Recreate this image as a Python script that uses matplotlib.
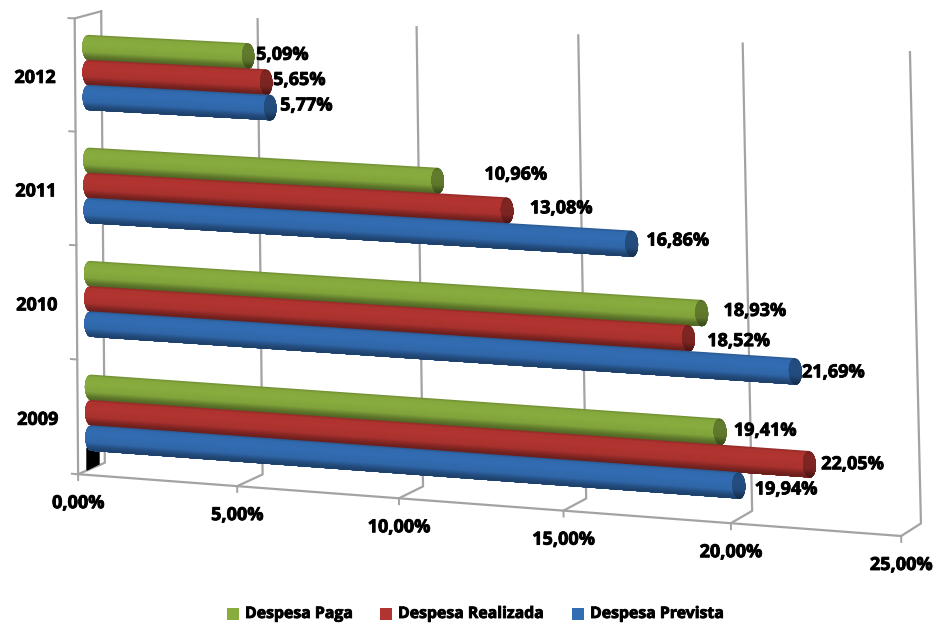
import matplotlib
matplotlib.use('Agg')
import matplotlib.pyplot as plt
import matplotlib.patheffects as pe
from matplotlib.patches import Polygon, Rectangle
import numpy as np

years = ['2009', '2010', '2011', '2012']
despesa_paga = [19.41, 18.93, 10.96, 5.09]
despesa_realizada = [22.05, 18.52, 13.08, 5.65]
despesa_prevista = [19.94, 21.69, 16.86, 5.77]
value_ticks = [0, 5, 10, 15, 20, 25]
value_tick_labels = ['0,00%', '5,00%', '10,00%', '15,00%', '20,00%', '25,00%']
series_names = ['Despesa Paga', 'Despesa Realizada', 'Despesa Prevista']

# green, red, blue: base colour and darker colour for the end cap
base_colors = [np.array([136, 172, 62]), np.array([178, 52, 48]), np.array([50, 108, 178])]
cap_scale = 0.72

# pixel landmarks of the 3d box: (value, level, depth) -> (px, py), depth 0 front, 1 back
box_points = [
    ((0, 0, 0), (79, 473)), ((5, 0, 0), (238, 486)), ((20, 0, 0), (730, 523)), ((25, 0, 0), (902, 537)),
    ((0, 0, 1), (105, 463)), ((5, 0, 1), (262, 474)), ((10, 0, 1), (422, 487)), ((15, 0, 1), (585, 499)),
    ((20, 0, 1), (752, 511)), ((25, 0, 1), (922, 523)),
    ((0, 4, 1), (100, 12)), ((5, 4, 1), (258, 19)), ((10, 4, 1), (420, 27)), ((15, 4, 1), (580, 35)),
    ((20, 4, 1), (742, 43)), ((25, 4, 1), (908, 52)), ((0, 4, 0), (73, 19)),
]


def fit_camera(points):
    rows, rhs = [], []
    for (v, l, d), (px, py) in points:
        rows.append([v, l, d, 1, 0, 0, 0, 0, -px * v, -px * l, -px * d])
        rhs.append(px)
        rows.append([0, 0, 0, 0, v, l, d, 1, -py * v, -py * l, -py * d])
        rhs.append(py)
    sol = np.linalg.lstsq(np.array(rows, float), np.array(rhs, float), rcond=None)[0]
    return np.append(sol, 1).reshape(3, 4)


cam = fit_camera(box_points)


def project(v, l, d):
    v, l = np.asarray(v, float), np.asarray(l, float)
    d = np.full(v.shape, float(d))
    w = cam[2, 0] * v + cam[2, 1] * l + cam[2, 2] * d + cam[2, 3]
    px = (cam[0, 0] * v + cam[0, 1] * l + cam[0, 2] * d + cam[0, 3]) / w
    py = (cam[1, 0] * v + cam[1, 1] * l + cam[1, 2] * d + cam[1, 3]) / w
    return px, py


fig = plt.figure(figsize=(9.41, 6.24), dpi=100)
ax = fig.add_axes([0, 0, 1, 1])
ax.set_xlim(0, 941)
ax.set_ylim(624, 0)
ax.axis('off')

FONT = 'Open Sans'
GRAY = '#a3a3a3'
heavy = [pe.withStroke(linewidth=0.6, foreground='black')]

# walls
for v in value_ticks:
    x, y = project([v, v, v], [4, 0, 0], 1)
    x2, y2 = project([v], [0], 0)
    ax.plot(list(x) + list(x2), list(y) + list(y2), color=GRAY, lw=1.6, zorder=1)
    x3, y3 = project([v], [-0.05], 0)
    ax.plot([x2[0], x3[0]], [y2[0], y3[0]], color=GRAY, lw=1.4, zorder=1)
x, y = project([0, 25], [0, 0], 0)
ax.plot(x, y, color=GRAY, lw=1.6, zorder=1)
x, y = project([0, 0, 0], [0, 4, 4], 0)
x[2], y[2] = project([0], [4], 1)[0][0], project([0], [4], 1)[1][0]
ax.plot(x, y, color=GRAY, lw=1.6, zorder=1)
for l in range(5):
    x, y = project([0, -0.2], [l, l], 0)
    ax.plot(x, y, color=GRAY, lw=1.4, zorder=1)

# the black smudge under the 2009 bars
ax.add_patch(Polygon([(87, 448), (99, 448), (99, 464), (87, 470)], color='black', zorder=2))


def shade(color, t):
    # t runs from -1 (top of the cylinder) to 1 (bottom)
    f = np.interp(t, [-1, -0.8, -0.3, 0.35, 0.75, 1], [0.82, 0.98, 1.0, 0.95, 0.68, 0.58])
    return np.clip(color * f, 0, 255) / 255


BAR_DEPTH = 0.5
RADIUS = 0.112
CAP = 0.19
SPACING = 0.222
LEVEL_SHIFT = -0.012
N_STRIPS = 26


def draw_cylinder(value, level, color, z):
    # each strip is painted from its top edge down to the bottom of the cylinder,
    # the next one goes over it, so no seams show
    edges = np.linspace(-1, 1, N_STRIPS + 1)
    arc_t = np.linspace(-1, 1, 41)
    for a, b in zip(edges[:-1], edges[1:]):
        t = arc_t[arc_t >= a]
        t = np.concatenate([[a], t])
        ls = level - t * RADIUS
        left = -CAP * np.sqrt(1 - t * t)
        vs = np.concatenate([left, [value, value]])
        lv = np.concatenate([ls, [level - RADIUS, level - a * RADIUS]])
        x, y = project(vs, lv, BAR_DEPTH)
        c = shade(color, (a + b) / 2)
        ax.add_patch(Polygon(np.column_stack([x, y]), closed=True, lw=0, fc=c, zorder=z))
    # end cap, darker
    for a, b in zip(edges[:-1], edges[1:]):
        t = arc_t[arc_t >= a]
        t = np.concatenate([[a], t])
        ls = level - t * RADIUS
        half = CAP * np.sqrt(1 - t * t)
        vs = np.concatenate([value + half, (value - half)[::-1]])
        lv = np.concatenate([ls, ls[::-1]])
        x, y = project(vs, lv, BAR_DEPTH)
        c = shade(color * cap_scale, (a + b) / 2)
        ax.add_patch(Polygon(np.column_stack([x, y]), closed=True, lw=0, fc=c, zorder=z + 0.1))


label_dx = [[45, 53, 78, 34], [43, 50, 54, 33], [47, 38, 46, 36]]
label_dy = [[-1, -2, -6, -1], [0, 3, -2, -2], [4, 1, -3, -2]]
all_series = [despesa_paga, despesa_realizada, despesa_prevista]

z = 3
for i in range(len(years) - 1, -1, -1):
    for s, values in enumerate(all_series):
        level = i + 0.5 + (1 - s) * SPACING + LEVEL_SHIFT
        draw_cylinder(values[i], level, base_colors[s], z)
        z += 1
        ex, ey = project([values[i]], [level], BAR_DEPTH)
        txt = ('%.2f%%' % values[i]).replace('.', ',')
        ax.text(ex[0] + label_dx[s][i], ey[0] + label_dy[s][i], txt, ha='center', va='center',
                fontsize=13, fontweight='bold', family=FONT, color='black', zorder=200,
                path_effects=heavy)

# tick labels
for v, lab in zip(value_ticks, value_tick_labels):
    x, y = project([v], [0], 0)
    ax.text(x[0], y[0] + 29, lab, ha='center', va='center', fontsize=13, fontweight='bold',
            family=FONT, color='black', path_effects=heavy)
for i, year in enumerate(years):
    x, y = project([0], [i + 0.5], 0)
    ax.text(x[0] - 40, y[0] + 3, year, ha='center', va='center', fontsize=13, fontweight='bold',
            family=FONT, color='black', path_effects=heavy)

# legend
legend_x = [227, 380, 572]
for name, x0, color in zip(series_names, legend_x, base_colors):
    ax.add_patch(Rectangle((x0, 608), 12, 12, fc=color / 255, ec='none'))
    ax.text(x0 + 18, 614, name, ha='left', va='center', fontsize=11.4, fontweight='bold',
            family=FONT, color='black', path_effects=heavy)

fig.savefig('out.png', dpi=100)
